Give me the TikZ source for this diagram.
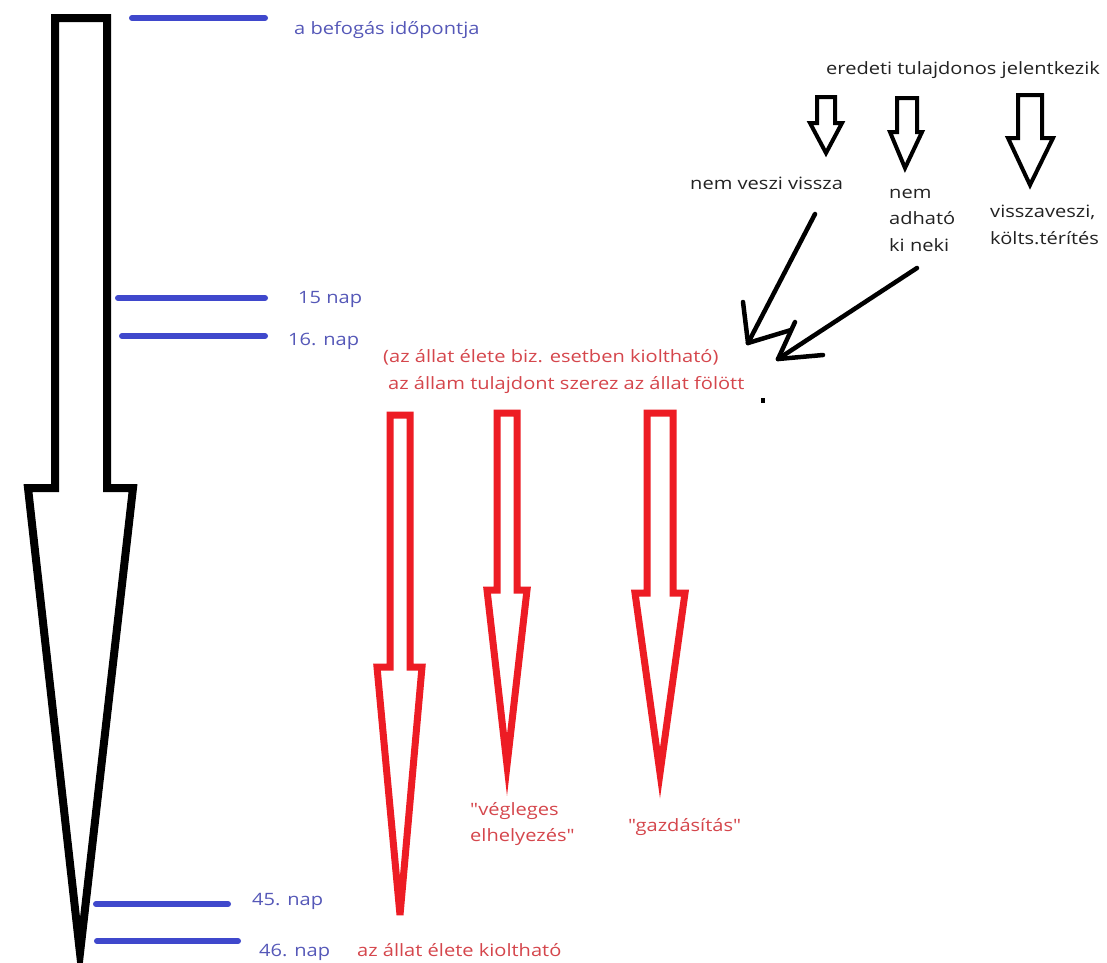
\documentclass[tikz,border=0pt]{standalone}
\usepackage{fontspec}
% a family without TeX ligature mapping keeps straight double quotes
\newfontfamily\labelfamily{Open Sans}[FakeStretch=1.18]
\definecolor{paintblue}{HTML}{3F48CC}
\definecolor{bluetext}{HTML}{5558B8}
\definecolor{paintred}{HTML}{ED1C24}
\definecolor{redtext}{HTML}{D5464C}
\definecolor{darktext}{HTML}{222222}
\tikzset{
  hollowblack/.style={draw=black, line width=8pt, line join=miter},
  hollowred/.style={draw=paintred, line width=7pt, line join=miter},
  smallblack/.style={draw=black, line width=4pt, line join=miter},
  tick/.style={draw=paintblue, line width=6pt, line cap=round},
  pointer/.style={draw=black, line width=4.5pt, line cap=round},
  labelfont/.style={font=\labelfamily\fontsize{17}{26.5}\selectfont, anchor=west, inner sep=0pt, align=left},
  bluelabel/.style={labelfont, text=bluetext},
  redlabel/.style={labelfont, text=redtext},
  blacklabel/.style={labelfont, text=darktext},
}
\begin{document}
\begin{tikzpicture}[x=1pt,y=-1pt]
\useasboundingbox[fill=white] (0,0) rectangle (1107,962);

% main timeline arrow
\draw[hollowblack] (55,18) -- (107,18) -- (107,488) -- (133,488) -- (80,953)
  -- (28,488) -- (55,488) -- cycle;

% day marks
\coordinate (t0a) at (132,18);  \coordinate (t0b) at (265,18);
\coordinate (t1a) at (118,298); \coordinate (t1b) at (265,298);
\coordinate (t2a) at (122,336); \coordinate (t2b) at (265,336);
\coordinate (t3a) at (96,904);  \coordinate (t3b) at (228,904);
\coordinate (t4a) at (97,941);  \coordinate (t4b) at (238,941);
\draw[tick] (t0a) -- (t0b);
\draw[tick] (t1a) -- (t1b);
\draw[tick] (t2a) -- (t2b);
\draw[tick] (t3a) -- (t3b);
\draw[tick] (t4a) -- (t4b);
\node[bluelabel] (l0) at (294,30) {a befogás időpontja};
\node[bluelabel] (l1) at (298,299) {15 nap};
\node[bluelabel] (l2) at (288,341) {16. nap};
\node[bluelabel] (l3) at (252,901) {45. nap};
\node[bluelabel] (l4) at (259,952) {46. nap};

% owner branch
\node[blacklabel] (owner) at (826,70) {eredeti tulajdonos jelentkezik};
\draw[smallblack] (817,97) -- (835,97) -- (835,123) -- (842,123) -- (826,153)
  -- (810,123) -- (817,123) -- cycle;
\draw[smallblack] (897,98) -- (917,98) -- (917,132) -- (922,132) -- (905,168)
  -- (890,132) -- (897,132) -- cycle;
\draw[smallblack] (1018,95) -- (1042,95) -- (1042,138) -- (1053,138) -- (1030,185)
  -- (1008,138) -- (1018,138) -- cycle;
\node[blacklabel] (nv) at (690,183) {nem veszi vissza};
\node[blacklabel] (na) at (889,220) {nem\\adható\\ki neki};
\node[blacklabel] (vv) at (990,225) {visszaveszi,\\költs.térítés};

% pointers into the state branch
\coordinate (p1s) at (815,214); \coordinate (p1e) at (748,343);
\coordinate (p2s) at (917,268); \coordinate (p2e) at (778,359);
\draw[pointer] (p1s) -- (p1e);
\draw[pointer] (p1e) -- (743,302);
\draw[pointer] (p1e) -- (791,330);
\draw[pointer] (p2s) -- (p2e);
\draw[pointer] (p2e) -- (795,322);
\draw[pointer] (p2e) -- (823,355);
\fill[black] (761,398) rectangle (765,403);

% state branch
\node[redlabel] (st1) at (383,357) {(az állat élete biz. esetben kioltható)};
\node[redlabel] (st2) at (388,385) {az állam tulajdont szerez az állat fölött};
\draw[hollowred] (390,415) -- (410,415) -- (410,667) -- (422,667) -- (400,915)
  -- (377,667) -- (390,667) -- cycle;
\draw[hollowred] (497,413) -- (517,413) -- (517,590) -- (527,590) -- (507,765)
  -- (487,590) -- (497,590) -- cycle;
\draw[hollowred] (647,413) -- (673,413) -- (673,593) -- (685,593) -- (660,773)
  -- (635,593) -- (647,593) -- cycle;
\node[redlabel] (veg) at (470,824) {"végleges\\elhelyezés"};
\node[redlabel] (gaz) at (628,827) {"gazdásítás"};
\node[redlabel] (kiol) at (357,950) {az állat élete kioltható};
\end{tikzpicture}
\end{document}
